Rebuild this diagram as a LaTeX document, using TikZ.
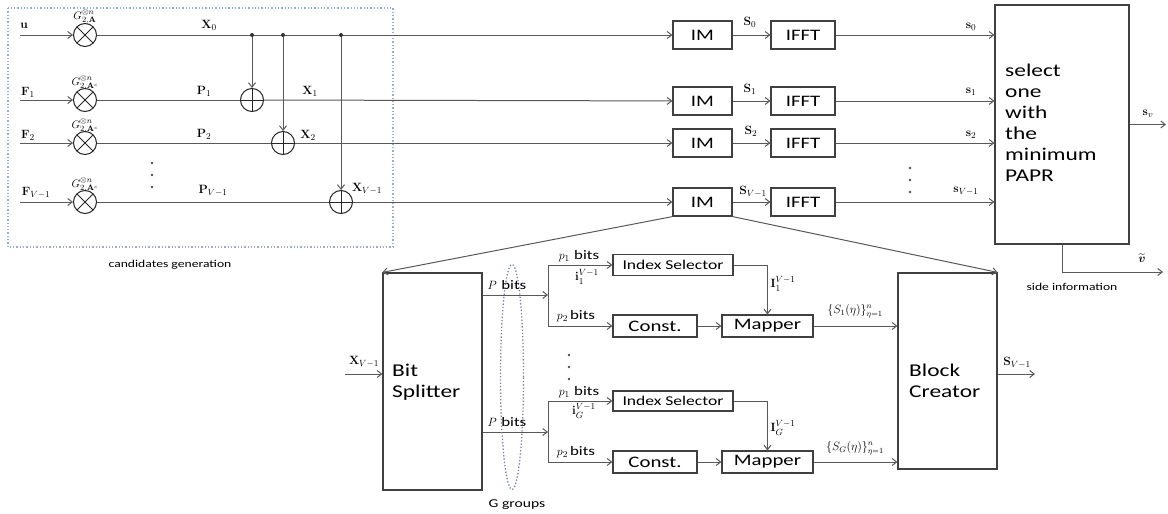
\documentclass[tikz,border=0pt]{standalone}
\usepackage{amsmath}
\usepackage[no-math]{fontspec}
\setmainfont[FakeStretch=1.3]{Carlito}
\usetikzlibrary{arrows.meta,calc}
\definecolor{lncol}{gray}{0.35}
\definecolor{dotc}{rgb}{0.6,0.68,0.82}
\begin{document}
\begin{tikzpicture}[x=1pt,y=-1pt,
  line/.style={draw=lncol,line width=1pt},
  arr/.style={line,-{Straight Barb[length=4.5pt,width=7pt]}},
  box/.style={draw=black!75,line width=1.2pt,rectangle,inner sep=0pt,font=\fontsize{16}{18}\selectfont},
  bigbox/.style={draw=black!75,line width=1.2pt,rectangle,inner sep=0pt},
  mul/.style={circle,draw=black!85,line width=1pt,minimum size=23pt,inner sep=0pt,
     path picture={\draw[black!85,line width=1pt] (path picture bounding box.north west)--(path picture bounding box.south east) (path picture bounding box.north east)--(path picture bounding box.south west);}},
  add/.style={circle,draw=black!85,line width=1pt,minimum size=23pt,inner sep=0pt,
     path picture={\draw[black!85,line width=1pt] (path picture bounding box.north)--(path picture bounding box.south) (path picture bounding box.east)--(path picture bounding box.west);}},
  lab/.style={inner sep=0pt,font=\fontsize{13}{15}\selectfont},
  glab/.style={inner sep=0pt,font=\fontsize{11}{13}\selectfont},
  note/.style={inner sep=0pt,font=\fontsize{10.5}{12}\selectfont},
  bigtxt/.style={inner sep=0pt,anchor=west,align=left,font=\fontsize{18}{21}\selectfont},
  bitsf/.style={font=\fontsize{13}{15}\selectfont}
]
\useasboundingbox (0,0) rectangle (1168,514);

% candidates generation box
\draw[dotc,dotted,line width=1.3pt] (8,8) rectangle (393,247);
\node[note] (cg) at (170,265) {candidates generation};

% inputs
\coordinate (in0) at (20,35);
\coordinate (in1) at (20,100);
\coordinate (in2) at (20,143);
\coordinate (in3) at (20,202);

% multipliers and adders
\node[mul] (m0) at (85,35) {};
\node[mul] (m1) at (85,100) {};
\node[mul] (m2) at (85,143) {};
\node[mul] (m3) at (85,202) {};
\node[add] (a1) at (252,100) {};
\node[add] (a2) at (283,143) {};
\node[add] (a3) at (341,202) {};
\coordinate (j1) at (252,35);
\coordinate (j2) at (283,35);
\coordinate (j3) at (341,35);

% IM and IFFT
\foreach \i/\y in {0/35,1/101,2/143,3/202}{
  \node[box,minimum width=59pt,minimum height=28pt] (im\i) at (702.5,\y) {IM};
  \node[box,minimum width=64pt,minimum height=28pt] (if\i) at (803,\y) {IFFT};
}

% select box
\node[bigbox,minimum width=134pt,minimum height=239pt] (sel) at (1062,124.5) {};
\node[bigtxt] (seltxt) at (1005,123) {select\\one\\with\\the\\minimum\\PAPR};
\coordinate (svend) at (1166,124.5);
\coordinate (vt) at (1163,272);

% connectors top
\draw[arr] (in0) -- (m0);
\draw[arr] (in1) -- (m1);
\draw[arr] (in2) -- (m2);
\draw[arr] (in3) -- (m3);
\draw[arr] (m0) -- (im0);
\draw[line] (m1) -- (a1);
\draw[line] (m2) -- (a2);
\draw[line] (m3) -- (a3);
\draw[arr] (a1) -- (im1);
\draw[arr] (a2) -- (im2);
\draw[arr] (a3) -- (im3);
\draw[arr] (j1) -- (a1);
\draw[arr] (j2) -- (a2);
\draw[arr] (j3) -- (a3);
\foreach \j in {j1,j2,j3} \fill[black!80] (\j) circle[radius=2pt];
\foreach \i in {0,1,2,3}{
  \draw[arr] (im\i) -- (if\i);
  \draw[arr] (if\i) -- (if\i -| sel.west);
}
\draw[arr] (sel.east) -- (svend);
\draw[arr] (sel.south) |- (vt);

% top labels
\node[lab] (lu) at (24,26) {$\mathbf{u}$};
\node[lab] (lf1) at (28,92) {$\mathbf{F}_1$};
\node[lab] (lf2) at (28,135) {$\mathbf{F}_2$};
\node[lab] (lf3) at (36,193) {$\mathbf{F}_{V-1}$};
\node[glab] (g0) at (85,17) {$G_{2,\mathbf{A}}^{\otimes n}$};
\node[glab] (g1) at (85,83) {$G_{2,\mathbf{A}^c}^{\otimes n}$};
\node[glab] (g2) at (85,126) {$G_{2,\mathbf{A}^c}^{\otimes n}$};
\node[glab] (g3) at (85,185) {$G_{2,\mathbf{A}^c}^{\otimes n}$};
\node[lab] (lx0) at (209,25) {$\mathbf{X}_0$};
\node[lab] (lp1) at (204,91) {$\mathbf{P}_1$};
\node[lab] (lx1) at (310,91) {$\mathbf{X}_1$};
\node[lab] (lp2) at (204,134) {$\mathbf{P}_2$};
\node[lab] (lx2) at (308,135) {$\mathbf{X}_2$};
\node[lab] (lp3) at (213,191) {$\mathbf{P}_{V-1}$};
\node[lab] (lx3) at (367,189) {$\mathbf{X}_{V-1}$};
\node[lab] (ls0) at (750,22) {$\mathbf{S}_0$};
\node[lab] (ls1) at (750,89) {$\mathbf{S}_1$};
\node[lab] (ls2) at (751,131) {$\mathbf{S}_2$};
\node[lab] (ls3) at (753,192) {$\mathbf{S}_{V-1}$};
\node[lab] (lt0) at (971,27) {$\mathbf{s}_0$};
\node[lab] (lt1) at (971,92) {$\mathbf{s}_1$};
\node[lab] (lt2) at (971,135) {$\mathbf{s}_2$};
\node[lab] (lt3) at (966,191) {$\mathbf{s}_{V-1}$};
\node[lab] (lsv) at (1148,114) {$\mathbf{s}_{v}$};
\node[lab] (lvt) at (1142,258) {$\widetilde{\boldsymbol{v}}$};
\node[note] (si) at (1072,287) {side information};

% dots
\foreach \y in {163,175,187} \fill[black!70] (152,\y) circle[radius=1.3pt];
\foreach \y in {168,180,192} \fill[black!70] (910,\y) circle[radius=1.3pt];
\foreach \y in {355,367,379} \fill[black!70] (569,\y) circle[radius=1.3pt];

% bottom blocks
\node[bigbox,minimum width=99pt,minimum height=217pt] (bs) at (432.5,381.5) {};
\node[bigtxt] (bstxt) at (392,382) {Bit\\Splitter};
\node[bigbox,minimum width=99pt,minimum height=196pt] (bc) at (947.5,371) {};
\node[bigtxt] (bctxt) at (909,381) {Block\\Creator};
\draw[arr] (im3.south west) -- (bs.north west);
\draw[arr] (im3.south east) -- (bc.north east);

\coordinate (xin) at (345,374);
\draw[arr] (xin) -- (xin -| bs.west);
\node[lab] (lxin) at (364,362) {$\mathbf{X}_{V-1}$};
\coordinate (sout) at (1035,374);
\draw[arr] (sout -| bc.east) -- (sout);
\node[lab] (lsout) at (1017,363) {$\mathbf{S}_{V-1}$};

% group 1
\node[box,font=\fontsize{13.5}{15}\selectfont,minimum width=120pt,minimum height=21pt] (is1) at (673,265) {Index Selector};
\node[box,minimum width=84pt,minimum height=22pt] (cs1) at (655,326) {Const.};
\node[box,minimum width=91pt,minimum height=22pt] (mp1) at (767.5,326) {Mapper};
\coordinate (b1) at (548,295);
\coordinate (b1t) at (548,265);
\coordinate (b1b) at (548,326);
\draw[arr] (b1 -| bs.east) -- (b1);
\draw[line] (b1t) -- (b1b);
\draw[arr] (b1t) -- (is1);
\draw[arr] (b1b) -- (cs1);
\draw[arr] (cs1) -- (mp1);
\draw[arr] (is1.east) -| (mp1.north);
\draw[arr] (mp1.east) -- (mp1.east -| bc.west);

% group G
\node[box,font=\fontsize{13.5}{15}\selectfont,minimum width=120pt,minimum height=20pt] (is2) at (673,401) {Index Selector};
\node[box,minimum width=84pt,minimum height=22pt] (cs2) at (655,462) {Const.};
\node[box,minimum width=91pt,minimum height=22pt] (mp2) at (767.5,462) {Mapper};
\coordinate (b2) at (548,432);
\coordinate (b2t) at (548,401);
\coordinate (b2b) at (548,462);
\draw[arr] (b2 -| bs.east) -- (b2);
\draw[line] (b2t) -- (b2b);
\draw[arr] (b2t) -- (is2);
\draw[arr] (b2b) -- (cs2);
\draw[arr] (cs2) -- (mp2);
\draw[arr] (is2.east) -| (mp2.north);
\draw[arr] (mp2.east) -- (mp2.east -| bc.west);

% ellipse
\draw[dotc!75!black,dotted,line width=1.3pt] (512,377) ellipse[x radius=11.5pt,y radius=112.5pt];
\node[inner sep=0pt,font=\fontsize{12}{14}\selectfont] (gg) at (517,505) {G groups};

% bottom labels
\node[lab] (pb1) at (507,285) {$P$\,\,{\fontsize{13}{15}\selectfont bits}};
\node[lab] (pb2) at (507,422) {$P$\,\,{\fontsize{13}{15}\selectfont bits}};
\node[lab] (p11) at (579,256) {$p_1$\,\,{\fontsize{13}{15}\selectfont bits}};
\node[lab] (i11) at (587,277) {$\mathbf{i}_1^{V-1}$};
\node[lab] (p21) at (576,316) {$p_2$\,{\fontsize{13}{15}\selectfont bits}};
\node[lab] (p12) at (579,392) {$p_1$\,\,{\fontsize{13}{15}\selectfont bits}};
\node[lab] (i12) at (584,411) {$\mathbf{i}_G^{V-1}$};
\node[lab] (p22) at (576,452) {$p_2$\,{\fontsize{13}{15}\selectfont bits}};
\node[lab] (I1) at (783,284) {$\mathbf{I}_1^{V-1}$};
\node[lab] (I2) at (783,428) {$\mathbf{I}_G^{V-1}$};
\node[lab,font=\fontsize{12}{14}\selectfont] (ss1) at (855,311) {$\{S_1(\eta)\}_{\eta=1}^{n}$};
\node[lab,font=\fontsize{12}{14}\selectfont] (ss2) at (855,448) {$\{S_G(\eta)\}_{\eta=1}^{n}$};
\end{tikzpicture}
\end{document}
